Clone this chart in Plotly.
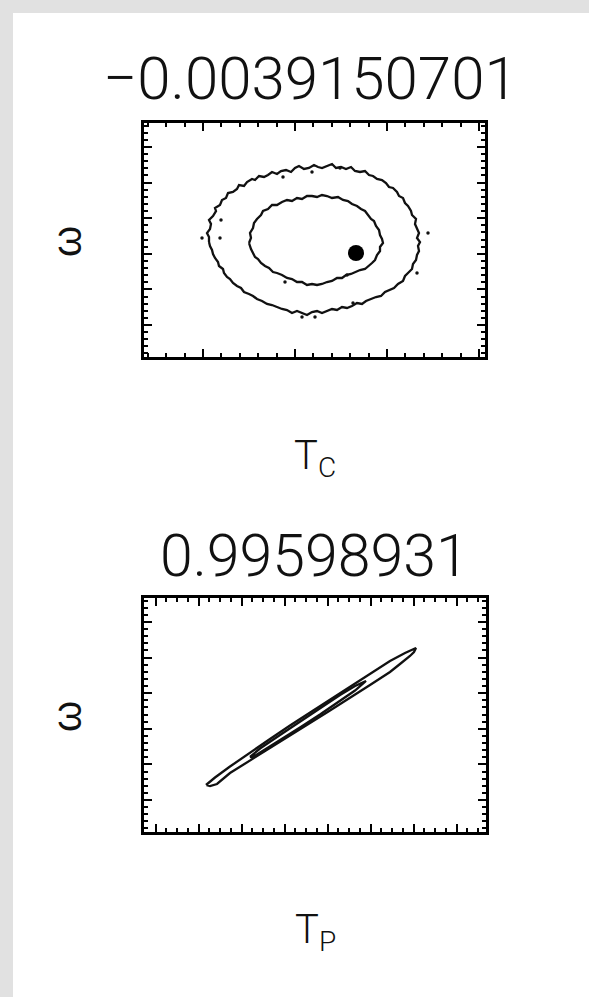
import plotly.graph_objects as go

# ---------------------------------------------------------------
# Joint posterior contours (68% / 95%) for two parameter pairs.
# Offsets are relative to the best-fit solution, arbitrary units.
# ---------------------------------------------------------------

# Panel 1: T_C vs omega  (correlation coefficient shown as title)
corr_tc = "\u22120.0039150701"
tc_outer_x = [-104, -104, -106, -103, -102, -104, -100, -97, -98, -93, -91, -87, -85, -80, -76, -74,
              -69, -66, -61, -58, -54, -49, -45, -41, -36, -32, -27, -22, -18, -14, -9, -4, 1, 5,
              9, 14, 19, 23, 28, 33, 38, 42, 47, 52, 56, 60, 64, 69, 73, 76, 80, 84, 86, 90, 92,
              95, 98, 99, 103, 102, 104, 106, 104, 107, 105, 106, 104, 103, 100, 99, 95, 92, 90,
              85, 81, 77, 72, 68, 63, 58, 53, 49, 44, 39, 34, 29, 24, 19, 14, 9, 4, -1, -6, -11,
              -16, -21, -26, -31, -36, -41, -46, -51, -56, -60, -64, -69, -72, -76, -80, -83, -86,
              -89, -90, -94, -95, -98, -100, -101, -103, -104]
tc_outer_y = [0, 5, 9, 13, 18, 22, 26, 31, 34, 37, 42, 44, 49, 50, 53, 57, 56, 60, 63, 62, 66, 65,
              67, 70, 68, 71, 72, 70, 74, 76, 73, 74, 77, 75, 74, 76, 78, 74, 75, 73, 75, 71, 70,
              71, 67, 66, 63, 62, 59, 55, 54, 50, 46, 44, 39, 36, 31, 27, 23, 18, 13, 9, 4, 0, -4,
              -9, -13, -18, -22, -27, -31, -34, -39, -42, -46, -48, -50, -54, -55, -57, -59, -62,
              -61, -64, -66, -65, -68, -67, -69, -71, -69, -70, -73, -71, -69, -71, -68, -67, -65,
              -63, -62, -59, -57, -54, -52, -50, -46, -44, -41, -37, -35, -31, -27, -24, -20, -16,
              -12, -8, -4, 0]

tc_inner_x = [-64, -62, -63, -60, -59, -56, -52, -50, -45, -41, -36, -31, -26, -21, -16, -11, -6,
              -1, 4, 9, 14, 19, 25, 30, 35, 39, 44, 48, 52, 55, 58, 61, 63, 66, 67, 69, 70, 67, 67,
              64, 62, 59, 56, 52, 47, 43, 38, 33, 29, 24, 19, 14, 9, 4, -1, -6, -11, -16, -21, -26,
              -31, -36, -40, -44, -48, -52, -55, -58, -60, -62, -64]
tc_inner_y = [-1, 4, 9, 14, 19, 23, 27, 31, 33, 37, 37, 40, 42, 41, 44, 43, 46, 46, 45, 47, 46, 44,
              45, 42, 41, 38, 36, 33, 31, 27, 23, 21, 16, 12, 7, 3, -1, -5, -9, -13, -18, -21, -24,
              -27, -28, -30, -32, -33, -36, -36, -39, -40, -42, -43, -42, -43, -40, -40, -37, -36,
              -33, -31, -30, -26, -24, -21, -17, -15, -11, -7, -1]

# isolated small islands of the outer contour level
tc_island_x = [-111, 115, -11, 2, -28, 34, -92, -93, -30, -1, 27, 104, 40]
tc_island_y = [4, 9, -75, -75, -40, -33, 22, 4, 65, 70, 74, -31, -61]

# best-fit solution
tc_best_x = [43]
tc_best_y = [-11]

# Panel 2: T_P vs omega
corr_tp = "0.99598931"
tp_outer_x = [-104, -95, -80, -60, -40, -20, 0, 20, 40, 60, 80, 95, 102, 106, 104, 100, 90, 80, 60,
              40, 20, 0, -20, -40, -60, -80, -93, -100, -104]
tp_outer_y = [-67, -59.5, -48.5, -34.5, -21, -7.5, 5.5, 18.5, 31.5, 44.5, 57, 65, 68, 70, 66, 62, 54,
              46, 33, 20, 7.5, -5, -17.5, -30, -42.5, -55, -66, -68, -67]

tp_inner_x = [-60, -50, -30, -10, 10, 30, 45, 56, 45, 30, 10, -10, -30, -50, -58, -60]
tp_inner_y = [-39, -30.5, -17, -3.5, 10, 23, 32, 37, 27.5, 17, 3.5, -9.5, -22, -34.5, -39.5, -39]

x_titles = ["T<sub>C</sub>", "T<sub>P</sub>"]
y_title = "\u03c9"

# ---------------------------------------------------------------
INK = "#111111"
line_style = dict(color=INK, width=2.3)

fig = go.Figure()

fig.add_trace(go.Scatter(x=tc_outer_x, y=tc_outer_y, mode="lines", line=line_style,
                         xaxis="x", yaxis="y", hoverinfo="skip"))
fig.add_trace(go.Scatter(x=tc_inner_x, y=tc_inner_y, mode="lines", line=line_style,
                         xaxis="x", yaxis="y", hoverinfo="skip"))
fig.add_trace(go.Scatter(x=tc_island_x, y=tc_island_y, mode="markers",
                         marker=dict(color=INK, size=3.5), xaxis="x", yaxis="y", hoverinfo="skip"))
fig.add_trace(go.Scatter(x=tc_best_x, y=tc_best_y, mode="markers",
                         marker=dict(color="black", size=16), xaxis="x", yaxis="y"))

fig.add_trace(go.Scatter(x=tp_outer_x, y=tp_outer_y, mode="lines", line=line_style,
                         xaxis="x2", yaxis="y2", hoverinfo="skip"))
fig.add_trace(go.Scatter(x=tp_inner_x, y=tp_inner_y, mode="lines", line=line_style,
                         xaxis="x2", yaxis="y2", hoverinfo="skip"))

W, H = 589, 997


def frame_axis(domain, rng, tick0, dtick, minor_dtick, anchor):
    return dict(
        domain=domain, range=rng, anchor=anchor,
        tick0=tick0, dtick=dtick, ticks="inside", ticklen=8, tickwidth=2, tickcolor="black",
        minor=dict(tick0=tick0, dtick=minor_dtick, ticks="inside", ticklen=4, tickwidth=2,
                   tickcolor="black", showgrid=False),
        showticklabels=False, showgrid=False, zeroline=False,
        showline=True, linewidth=2.5, linecolor="black", mirror="ticks",
    )


fig.update_layout(
    width=W, height=H,
    margin=dict(l=0, r=0, t=0, b=0),
    paper_bgcolor="white", plot_bgcolor="white",
    showlegend=False,
    xaxis=frame_axis([144 / W, 485 / W], [-169, 172], -110, 92, 18.4, "y"),
    yaxis=frame_axis([(H - 357) / H, (H - 123) / H], [-115, 119], -83, 35.6, 7.12, "x"),
    xaxis2=frame_axis([144 / W, 486 / W], [-166, 176], -154.3, 43, 10.75, "y2"),
    yaxis2=frame_axis([(H - 832) / H, (H - 598) / H], [-114, 120], -82, 35.6, 7.12, "x2"),
)

# window-style grey border along the top and left edges
fig.add_shape(type="rect", xref="paper", yref="paper", x0=0, x1=13 / W, y0=0, y1=1,
              fillcolor="#e1e1e1", line_width=0, layer="below")
fig.add_shape(type="rect", xref="paper", yref="paper", x0=0, x1=1, y0=1 - 13 / H, y1=1,
              fillcolor="#e1e1e1", line_width=0, layer="below")


def label(text, x, y, size, angle=0, family="Roboto", weight=300):
    fig.add_annotation(text=text, x=x / W, y=1 - y / H, xref="paper", yref="paper",
                       xanchor="center", yanchor="middle", showarrow=False, textangle=angle,
                       font=dict(family=family, size=size, color=INK, weight=weight))


label(corr_tc, 310, 78, 60)
label(corr_tp, 314, 555, 59)
label(y_title, 67, 242, 40, -90, "Liberation Sans", 400)
label(y_title, 67, 717, 40, -90, "Liberation Sans", 400)
label(x_titles[0], 315, 458, 40)
label(x_titles[1], 315, 932, 40)

fig.write_html("out.html")
